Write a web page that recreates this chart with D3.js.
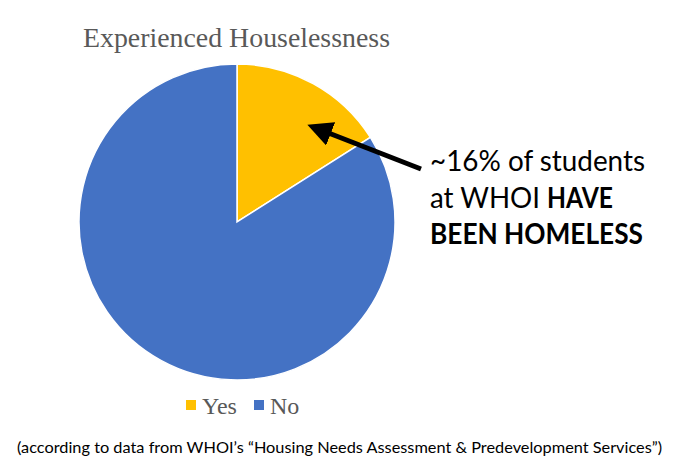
<!DOCTYPE html>
<html><head><meta charset="utf-8">
<script src="https://cdn.jsdelivr.net/npm/d3@7"></script>
<style>body{margin:0;background:#fff}</style>
</head><body>
<svg id="c" width="680" height="472"></svg>
<script>
const categories = ["Yes", "No"];
const values = [16, 84];
const colors = ["#FFC000", "#4472C4"];

const svg = d3.select("#c");
const cx = 237, cy = 222, r = 158;

svg.append("text").attr("x", 83).attr("y", 47)
  .attr("font-family", "Liberation Serif").attr("font-size", 27).attr("fill", "#595959")
  .attr("textLength", 307).attr("lengthAdjust", "spacingAndGlyphs")
  .text("Experienced Houselessness");

const pie = d3.pie().sort(null).value(d => d)(values);
const arc = d3.arc().innerRadius(0).outerRadius(r);
svg.append("g").attr("transform", `translate(${cx},${cy})`)
  .selectAll("path").data(pie).join("path")
  .attr("d", arc).attr("fill", (d, i) => colors[i])
  .attr("stroke", "#fff").attr("stroke-width", 1.5);

// legend
const leg = svg.append("g").attr("font-family", "Liberation Serif").attr("font-size", 24).attr("fill", "#595959");
const legX = [186, 254];
categories.forEach((c, i) => {
  leg.append("rect").attr("x", legX[i]).attr("y", 400).attr("width", 10).attr("height", 10).attr("fill", colors[i]);
  leg.append("text").attr("x", legX[i] + 16).attr("y", 414).text(c);
});

// arrow
const defs = svg.append("defs");
defs.append("marker").attr("id", "ah").attr("viewBox", "0 0 10 10").attr("refX", 2).attr("refY", 5)
  .attr("markerWidth", 5).attr("markerHeight", 5).attr("orient", "auto")
  .append("path").attr("d", "M0,0 L10,5 L0,10 Z").attr("fill", "#000");
svg.append("line").attr("x1", 421).attr("y1", 169).attr("x2", 326).attr("y2", 132)
  .attr("stroke", "#000").attr("stroke-width", 5).attr("marker-end", "url(#ah)");

// annotation
const ann = svg.append("g").attr("font-family", "Lato, 'Open Sans', sans-serif").attr("font-size", 29).attr("fill", "#000");
ann.append("text").attr("x", 430).attr("y", 171).attr("textLength", 215).attr("lengthAdjust", "spacingAndGlyphs").text("~16% of students");
ann.append("text").attr("x", 430).attr("y", 208).attr("textLength", 110).attr("lengthAdjust", "spacingAndGlyphs").text("at WHOI");
ann.append("text").attr("x", 547).attr("y", 208).attr("font-weight", "bold").attr("textLength", 66).attr("lengthAdjust", "spacingAndGlyphs").text("HAVE");
ann.append("text").attr("x", 430).attr("y", 244).attr("font-weight", "bold").attr("textLength", 213).attr("lengthAdjust", "spacingAndGlyphs").text("BEEN HOMELESS");

svg.append("text").attr("x", 17).attr("y", 453).attr("font-family", "Lato, 'Open Sans', sans-serif").attr("font-size", 16).attr("fill", "#000")
  .attr("textLength", 645).attr("lengthAdjust", "spacingAndGlyphs")
  .text("(according to data from WHOI\u2019s \u201CHousing Needs Assessment & Predevelopment Services\u201D)");
</script>
</body></html>
